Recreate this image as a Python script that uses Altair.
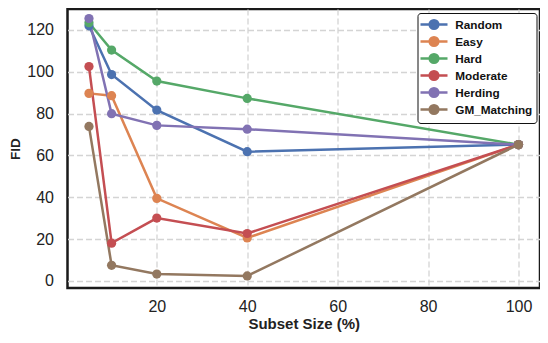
import altair as alt
import pandas as pd

subset = [5, 10, 20, 40, 100]
series_names = ["Random", "Easy", "Hard", "Moderate", "Herding", "GM_Matching"]
random_v = [122.0, 98.7, 81.7, 61.8, 65.2]
easy_v = [89.7, 88.6, 39.5, 20.6, 65.2]
hard_v = [123.5, 110.4, 95.6, 87.3, 65.2]
moderate_v = [102.5, 18.1, 30.1, 22.7, 65.2]
herding_v = [125.5, 80.0, 74.4, 72.6, 65.2]
gm_v = [73.9, 7.5, 3.3, 2.4, 65.2]
colors = ["#4C72B0", "#DD8452", "#55A868", "#C44E52", "#8172B3", "#937860"]

values = [random_v, easy_v, hard_v, moderate_v, herding_v, gm_v]
rows = []
for name, vals in zip(series_names, values):
    for x, y in zip(subset, vals):
        rows.append({"Subset": x, "FID": y, "Method": name})
df = pd.DataFrame(rows)

FONT = "Liberation Sans"

color = alt.Color(
    "Method:N",
    scale=alt.Scale(domain=series_names, range=colors),
    sort=series_names,
    legend=alt.Legend(
        title=None,
        orient="top-right",
        offset=4,
        symbolType="M-2.25,0H2.25M0.72,0A0.72,0.72 0 1,1 -0.72,0A0.72,0.72 0 1,1 0.72,0Z",
        symbolSize=144,
        symbolStrokeWidth=2.5,
        symbolOffset=5,
        labelFont=FONT,
        labelFontSize=11.75,
        labelFontWeight="bold",
        labelColor="#111",
        labelOffset=13.75,
        strokeColor="#111",
        fillColor="white",
        cornerRadius=3,
        padding=4,
        rowPadding=-3.1,
    ),
)

x = alt.X(
    "Subset:Q",
    scale=alt.Scale(domain=[0.25, 104.75], nice=False, zero=False),
    axis=alt.Axis(values=[20, 40, 60, 80, 100], title="Subset Size (%)"),
)
y = alt.Y(
    "FID:Q",
    scale=alt.Scale(domain=[-3.35, 130.04], nice=False, zero=False),
    axis=alt.Axis(values=[0, 20, 40, 60, 80, 100, 120], title="FID"),
)

base = alt.Chart(df).encode(x=x, y=y, color=color, order=alt.Order("Subset:Q"))
lines = base.mark_line(strokeWidth=2.5)
points = base.mark_point(filled=True, size=85, opacity=1)

chart = (
    alt.layer(lines, points)
    .properties(
        width=472.5,
        height=279,
        autosize=alt.AutoSizeParams(type="none"),
        padding={"left": 59.5, "top": 1, "right": 0, "bottom": 46},
    )
    .configure_view(stroke="#1a1a1a", strokeWidth=2.5)
    .configure_axis(
        grid=True,
        gridColor="#d4d4d4",
        gridDash=[6, 3],
        gridWidth=1.3,
        domain=False,
        ticks=False,
        labelFont=FONT,
        labelFontSize=16,
        labelColor="#222",
        titleFont=FONT,
        titleFontWeight="bold",
        titleColor="#222",
    )
    .configure_axisX(labelPadding=10.5, titlePadding=2, titleFontSize=15)
    .configure_axisY(labelPadding=14, titlePadding=4.5, titleFontSize=13.5)
)

chart.save("out.html", embed_options={"renderer": "svg", "actions": False})
